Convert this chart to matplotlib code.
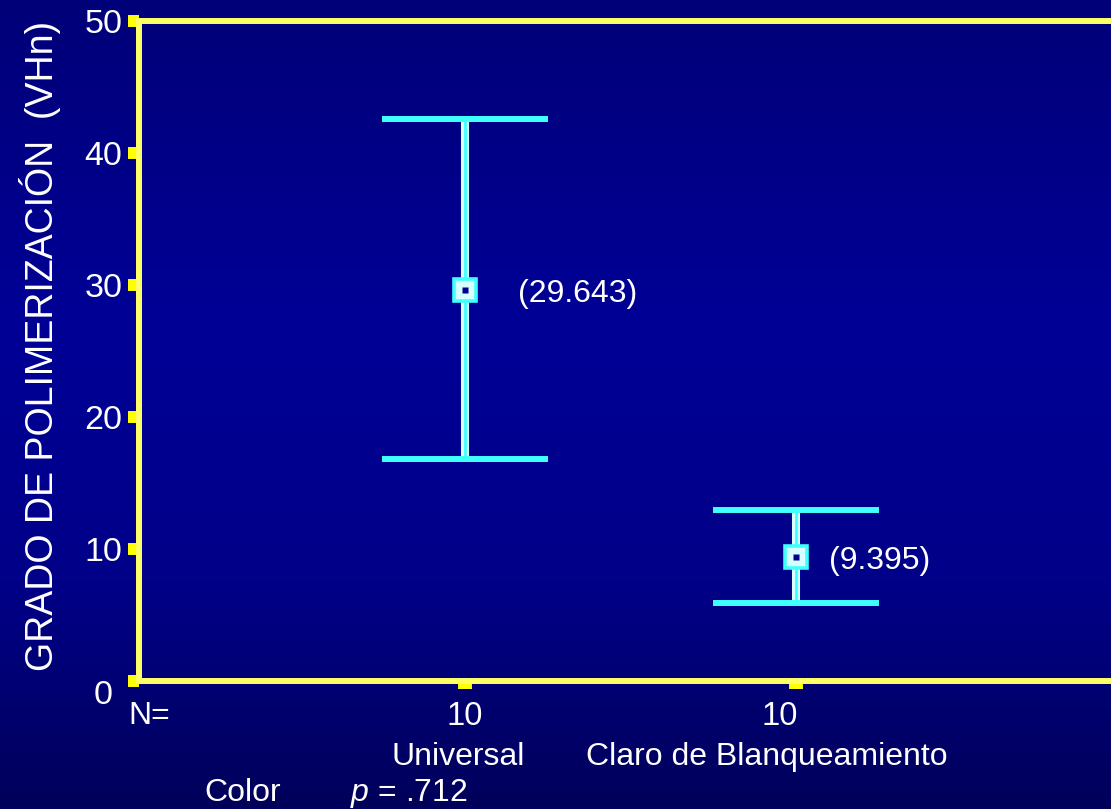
import numpy as np
import matplotlib
matplotlib.use("Agg")
import matplotlib.pyplot as plt
from matplotlib.colors import LinearSegmentedColormap

plt.rcParams['font.family'] = ['Liberation Sans', 'DejaVu Sans']
plt.rcParams['mathtext.fontset'] = 'custom'
plt.rcParams['mathtext.it'] = 'Liberation Sans:italic'
plt.rcParams['mathtext.rm'] = 'Liberation Sans'

# ---- data ----
categories = ["Universal", "Claro de Blanqueamiento"]
n_values = [10, 10]
means = [29.643, 9.395]
ci_low = [16.82, 5.93]
ci_high = [42.58, 12.95]
y_ticks = [0, 10, 20, 30, 40, 50]
y_label = "GRADO DE POLIMERIZACIÓN  (VHn)"
factor_label = "Color"
p_text = r"$\it{p}$ = .712"

# ---- style ----
W, H = 1111, 809
fig = plt.figure(figsize=(W / 100, H / 100), dpi=100)
fig.patch.set_facecolor("#000080")

# gradient background
bg = fig.add_axes([0, 0, 1, 1], zorder=-10)
cmap = LinearSegmentedColormap.from_list(
    "bg", [(0.0, "#000078"), (0.40, "#000096"), (0.72, "#000088"), (1.0, "#00005a")])
grad = np.linspace(0, 1, 256).reshape(-1, 1)
bg.imshow(grad, aspect="auto", cmap=cmap, extent=[0, 1, 0, 1], origin="upper")
bg.set_axis_off()

left_px, right_px, top_px, bot_px = 139, 1130, 21, 681
ax = fig.add_axes([left_px / W, 1 - bot_px / H,
                   (right_px - left_px) / W, (bot_px - top_px) / H])
ax.set_facecolor("none")

x = np.arange(1, len(categories) + 1)
m = np.array(means)
yerr = [m - np.array(ci_low), np.array(ci_high) - m]

cyan = "#40FFFF"
light = "#D8FFFF"
# whisker: light outer with cyan core
ax.vlines(x, ci_low, ci_high, color=light, linewidth=5.8, zorder=2)
ax.vlines(x, ci_low, ci_high, color=cyan, linewidth=2.0, zorder=2.1)
ax.errorbar(x, means, yerr=yerr, fmt="none", ecolor=cyan,
            elinewidth=0, capsize=60, capthick=4.3, zorder=2.2)
# mean markers
ax.plot(x, means, "s", markersize=16, markerfacecolor=light,
        markeredgecolor=cyan, markeredgewidth=2.6, linestyle="none", zorder=3)
ax.plot(x, means, "s", markersize=4.5, markerfacecolor="#000090",
        markeredgecolor="none", linestyle="none", zorder=3.1)

label_dx = [38, 24]  # points
for xi, mv, dx in zip(x, means, label_dx):
    ax.annotate(f"({mv:.3f})", (xi, mv), xytext=(dx, -3), textcoords="offset points",
                ha="left", va="center", color="white", fontsize=23)

ax.set_xlim(1 - 326 / 331, 2 + 334 / 331)
ax.set_ylim(0, 50)

yellow = "#FFFF66"
for side in ["left", "top", "bottom"]:
    ax.spines[side].set_color(yellow)
    ax.spines[side].set_linewidth(4.3)
ax.spines["right"].set_visible(False)

ax.set_yticks(y_ticks)
ax.set_yticklabels([""] + [str(t) for t in y_ticks[1:]])
ax.tick_params(axis="y", direction="out", length=8, width=8.6, color="#FFFF00",
               labelcolor="white", labelsize=24.5, pad=4)
ax.set_xticks(x)
ax.set_xticklabels([])
ax.tick_params(axis="x", direction="out", length=6, width=10, color="#FFFF00")

# N row and category names under the axis
n_dx = [0, -16]     # pixels
cat_dx = [-7, -29]  # pixels
for xi, n, c, ndx, cdx in zip(x, n_values, categories, n_dx, cat_dx):
    ax.annotate(str(n), (xi, 0), xycoords=("data", "axes fraction"),
                xytext=(ndx, -44), textcoords="offset pixels",
                ha="center", va="baseline", color="white", fontsize=23.5)
    ax.annotate(c, (xi, 0), xycoords=("data", "axes fraction"),
                xytext=(cdx, -84), textcoords="offset pixels",
                ha="center", va="baseline", color="white", fontsize=23)

# "0" label placed slightly lower, as in reference
fig.text(113 / W, 1 - 695 / H, "0", color="white", fontsize=24.5, ha="right", va="center")

fig.text(128 / W, 1 - 724 / H, "N=", color="white", fontsize=23, ha="left", va="baseline")
fig.text(40 / W, 1 - 346 / H, y_label, color="white", fontsize=27,
         rotation=90, ha="center", va="center")
fig.text(204 / W, 1 - 793 / H, factor_label, color="white", fontsize=23,
         ha="left", va="center")
fig.text(350 / W, 1 - 793 / H, p_text, color="white", fontsize=23,
         ha="left", va="center")

fig.savefig("out.png", dpi=100, facecolor=fig.get_facecolor())
